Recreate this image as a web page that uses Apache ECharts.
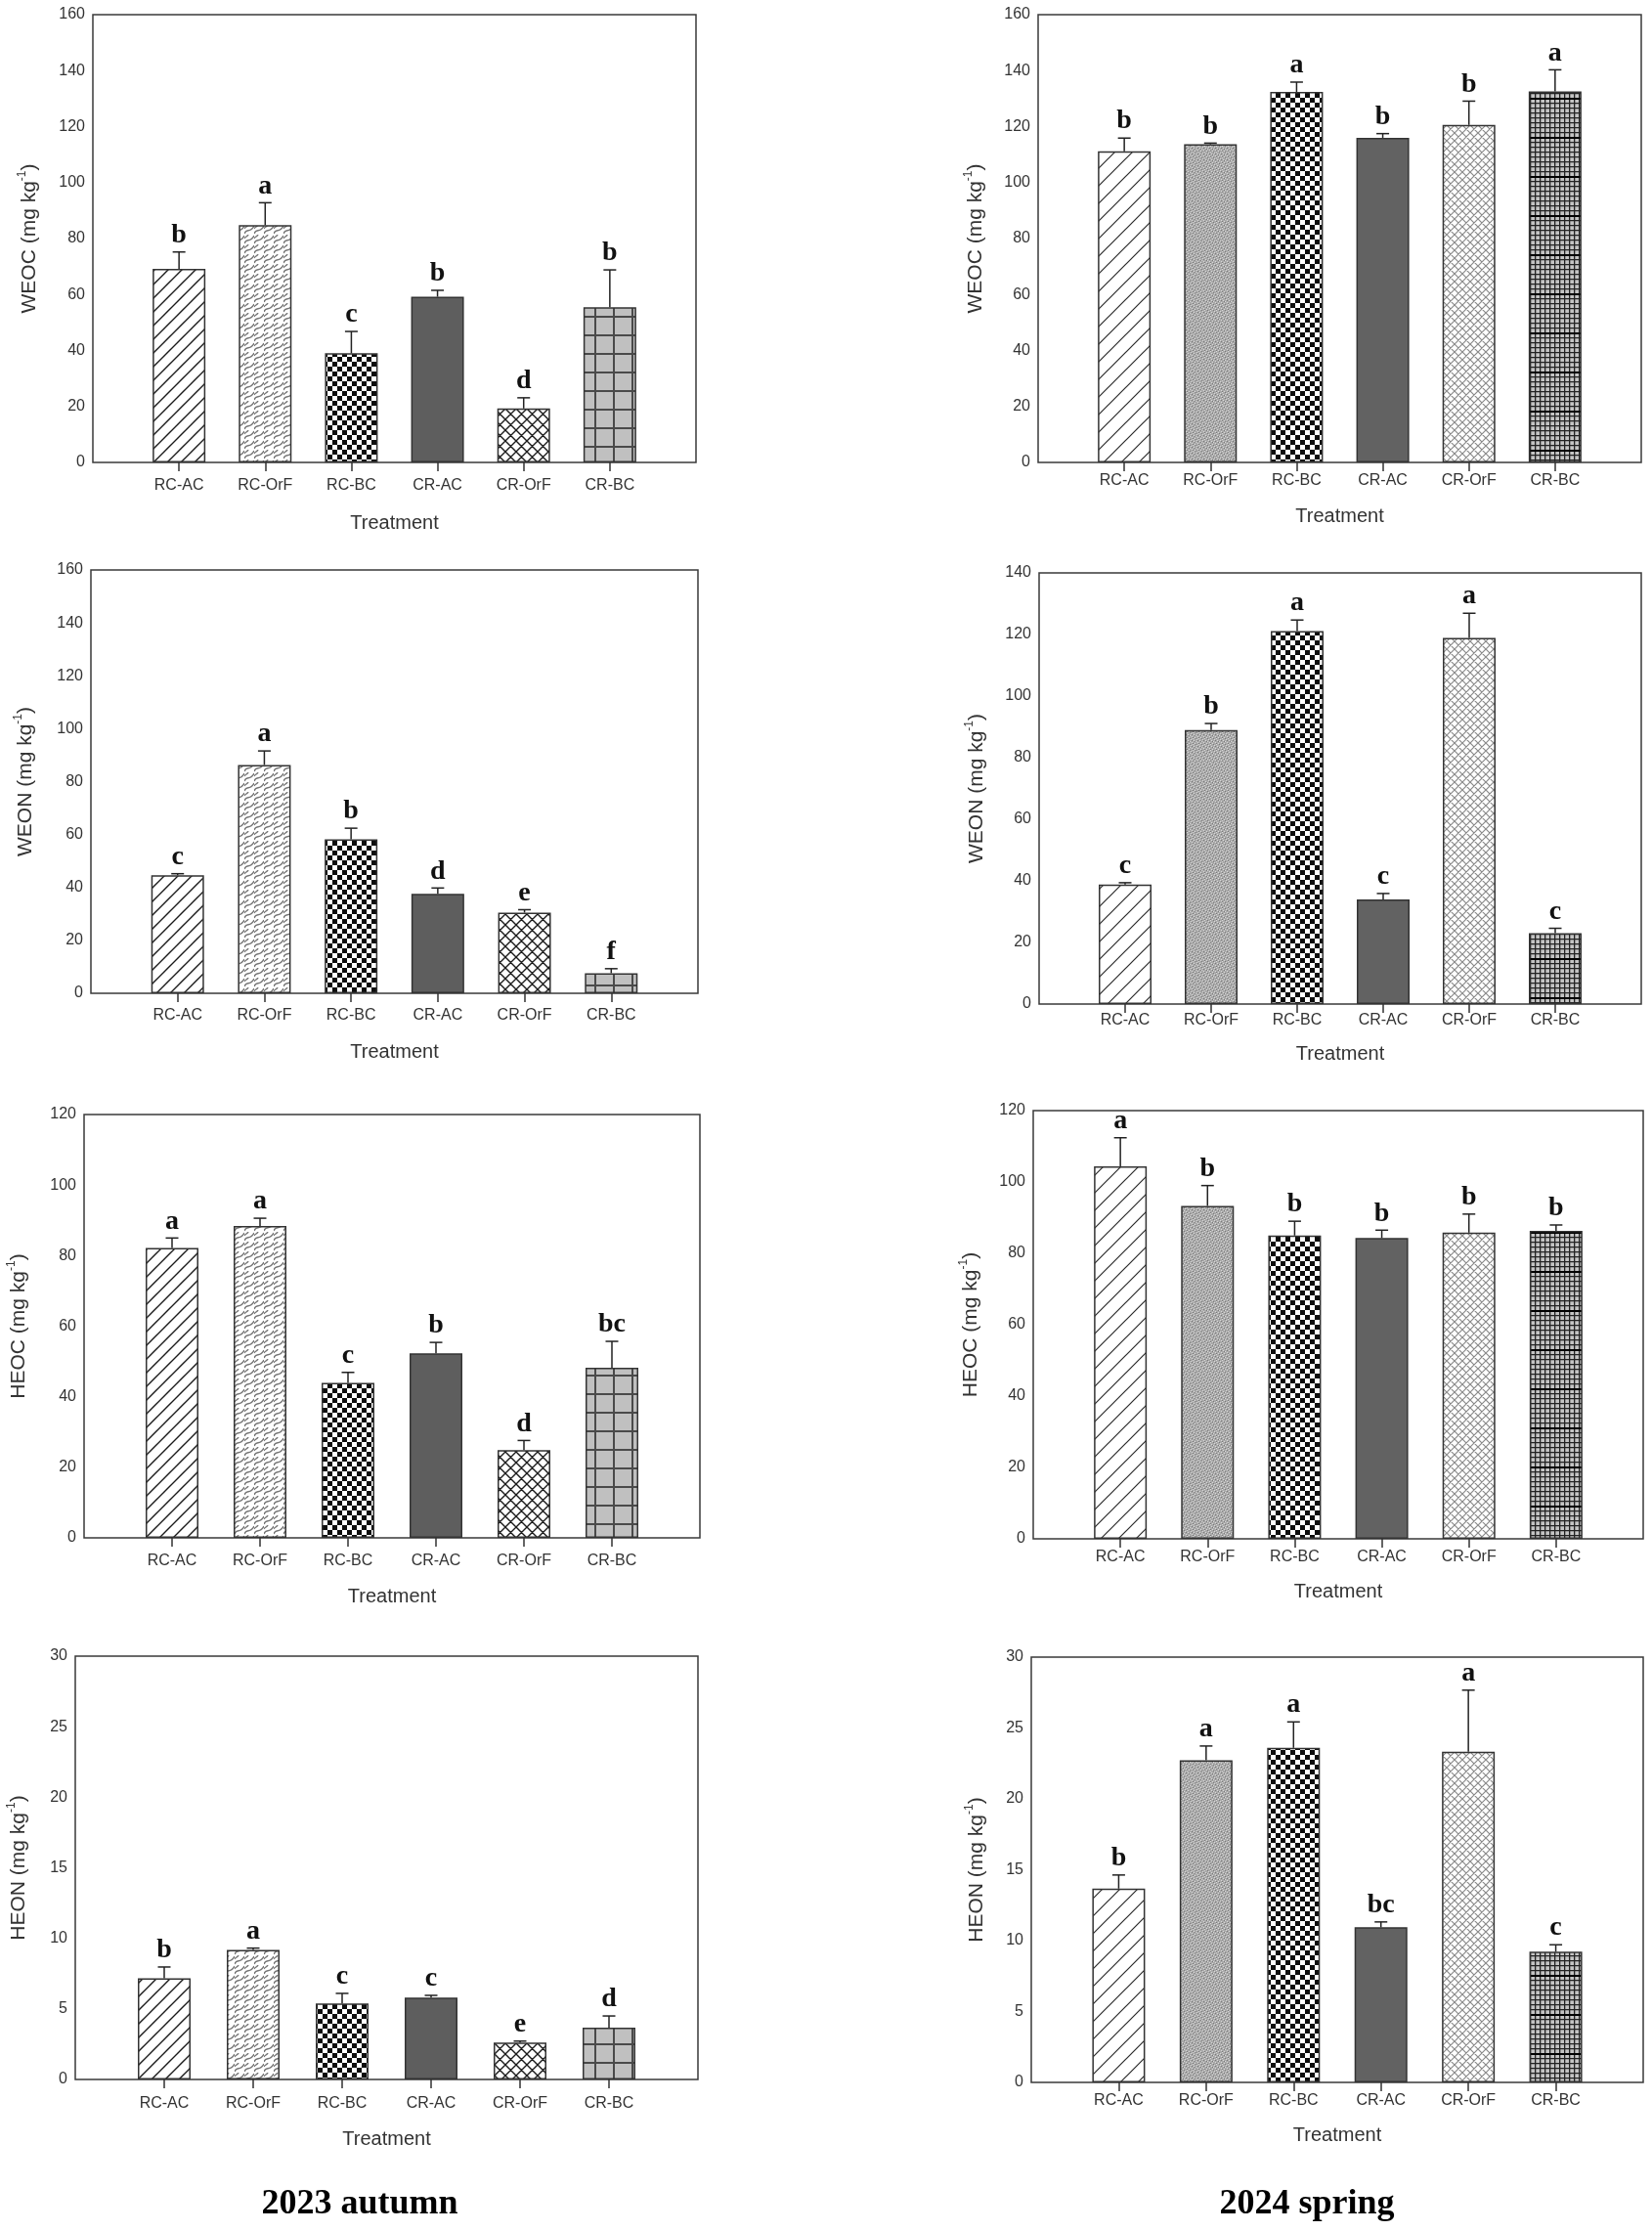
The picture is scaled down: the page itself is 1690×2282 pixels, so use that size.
<!DOCTYPE html>
<html>
<head>
<meta charset="utf-8">
<script src="https://cdn.jsdelivr.net/npm/echarts@6/dist/echarts.min.js"></script>
<style>
  html, body { margin: 0; padding: 0; background: #fff; }
  #main { width: 1690px; height: 2282px; }
</style>
</head>
<body>
<div id="main"></div>
<script>
// treatments on the x axis
const treatments = ['RC-AC', 'RC-OrF', 'RC-BC', 'CR-AC', 'CR-OrF', 'CR-BC'];

// 2023 autumn
const weocAutumn = [69.2, 84.8, 39.0, 59.2, 19.3, 55.5];
const weocAutumnErr = [6.0, 8.0, 7.8, 2.3, 3.8, 13.3];
const weocAutumnLetters = ['b', 'a', 'c', 'b', 'd', 'b'];

const weonAutumn = [44.6, 86.3, 58.2, 37.6, 30.5, 7.6];
const weonAutumnErr = [0.6, 5.3, 4.2, 2.2, 1.1, 1.7];
const weonAutumnLetters = ['c', 'a', 'b', 'd', 'e', 'f'];

const heocAutumn = [82.2, 88.4, 43.9, 52.3, 24.9, 48.2];
const heocAutumnErr = [2.8, 2.2, 3.0, 3.1, 2.7, 7.5];
const heocAutumnLetters = ['a', 'a', 'c', 'b', 'd', 'bc'];

const heonAutumn = [7.17, 9.18, 5.38, 5.8, 2.61, 3.68];
const heonAutumnErr = [0.8, 0.13, 0.72, 0.16, 0.11, 0.82];
const heonAutumnLetters = ['b', 'a', 'c', 'c', 'e', 'd'];

// 2024 spring
const weocSpring = [111.2, 113.7, 132.4, 116.0, 120.6, 132.6];
const weocSpringErr = [4.7, 0.4, 3.5, 1.5, 8.5, 7.7];
const weocSpringLetters = ['b', 'b', 'a', 'b', 'b', 'a'];

const weonSpring = [38.8, 89.0, 121.1, 34.0, 118.9, 23.0];
const weonSpringErr = [0.6, 2.1, 3.6, 1.9, 8.0, 1.6];
const weonSpringLetters = ['c', 'b', 'a', 'c', 'a', 'c'];

const heocSpring = [104.4, 93.3, 85.0, 84.3, 85.8, 86.3];
const heocSpringErr = [8.0, 5.7, 4.0, 2.2, 5.2, 1.65];
const heocSpringLetters = ['a', 'b', 'b', 'b', 'b', 'b'];

const heonSpring = [13.67, 22.72, 23.6, 10.94, 23.33, 9.22];
const heonSpringErr = [0.96, 1.01, 1.83, 0.38, 4.34, 0.49];
const heonSpringLetters = ['b', 'a', 'a', 'bc', 'a', 'c'];

const SANS = '"Liberation Sans", Arial, sans-serif';
const SERIF = '"Liberation Serif", "Times New Roman", serif';

// fill patterns (drawn on small canvases)
function pat(w, h, draw) {
  const c = document.createElement('canvas');
  c.width = w; c.height = h;
  const g = c.getContext('2d');
  draw(g, w, h);
  return { image: c, repeat: 'repeat' };
}
function diag(size, stroke, lw) {
  return pat(size, size, function (g, w) {
    g.fillStyle = '#fff'; g.fillRect(0, 0, w, w);
    g.strokeStyle = stroke; g.lineWidth = lw;
    g.beginPath();
    g.moveTo(-2, w + 2); g.lineTo(w + 2, -2);
    g.moveTo(-2, 2); g.lineTo(2, -2);
    g.moveTo(w - 2, w + 2); g.lineTo(w + 2, w - 2);
    g.stroke();
  });
}
function cross(size, bg, stroke, lw) {
  return pat(size, size, function (g, w) {
    g.fillStyle = bg; g.fillRect(0, 0, w, w);
    g.strokeStyle = stroke; g.lineWidth = lw;
    g.beginPath();
    g.moveTo(-2, w + 2); g.lineTo(w + 2, -2);
    g.moveTo(-2, -2); g.lineTo(w + 2, w + 2);
    g.moveTo(-2, 2); g.lineTo(2, -2);
    g.moveTo(w - 2, w + 2); g.lineTo(w + 2, w - 2);
    g.moveTo(w - 2, -2); g.lineTo(w + 2, 2);
    g.moveTo(-2, w - 2); g.lineTo(2, w + 2);
    g.stroke();
  });
}
function checker(sq, dark, light) {
  return pat(sq * 2, sq * 2, function (g, w) {
    g.fillStyle = light; g.fillRect(0, 0, w, w);
    g.fillStyle = dark;
    g.fillRect(0, 0, sq, sq); g.fillRect(sq, sq, sq, sq);
  });
}
function grid(sx, sy, bg, stroke, lw) {
  return pat(sx, sy, function (g) {
    g.fillStyle = bg; g.fillRect(0, 0, sx, sy);
    g.strokeStyle = stroke; g.lineWidth = lw;
    g.beginPath();
    g.moveTo(lw / 2, 0); g.lineTo(lw / 2, sy);
    g.moveTo(0, lw / 2); g.lineTo(sx, lw / 2);
    g.stroke();
  });
}
const waveGray = pat(10, 10, function (g) {
  g.fillStyle = '#fff'; g.fillRect(0, 0, 10, 10);
  g.strokeStyle = '#767676'; g.lineWidth = 1.5;
  g.beginPath();
  g.moveTo(0, 9); g.bezierCurveTo(2, 3, 6, 9, 10, 1);
  g.moveTo(0, 4); g.bezierCurveTo(1, 2, 3, 2, 4, 0);
  g.stroke();
});
const fineGray = pat(6, 6, function (g) {
  g.fillStyle = '#a9a9a9'; g.fillRect(0, 0, 6, 6);
  g.fillStyle = '#d8d8d8';
  g.fillRect(0, 0, 1, 1); g.fillRect(3, 1, 1, 1); g.fillRect(1, 3, 1, 1);
  g.fillRect(4, 4, 1, 1); g.fillRect(5, 2, 1, 1); g.fillRect(2, 5, 1, 1);
  g.fillStyle = '#7a7a7a';
  g.fillRect(1, 1, 1, 1); g.fillRect(4, 2, 1, 1); g.fillRect(2, 4, 1, 1); g.fillRect(5, 5, 1, 1);
});
// fine dark grid with a heavier horizontal rule every few cells
const fineGrid = pat(5, 40, function (g) {
  g.fillStyle = '#c4c4c4'; g.fillRect(0, 0, 5, 40);
  g.strokeStyle = '#222'; g.lineWidth = 1.3;
  g.beginPath();
  g.moveTo(0.65, 0); g.lineTo(0.65, 40);
  for (let y = 0; y < 40; y += 5) { g.moveTo(0, y + 0.65); g.lineTo(5, y + 0.65); }
  g.stroke();
  g.fillStyle = '#000'; g.fillRect(0, 20, 5, 2);
});

const autumnPats = [
  diag(14, '#1a1a1a', 1.4),
  waveGray,
  checker(5, '#0d0d0d', '#fff'),
  '#5e5e5e',
  cross(11, '#fff', '#1a1a1a', 1.4),
  grid(19, 19, '#c0c0c0', '#4a4a4a', 2)
];
const springPats = [
  diag(18, '#2a2a2a', 1.2),
  fineGray,
  checker(5, '#0d0d0d', '#fff'),
  '#626262',
  cross(8, '#fff', '#8a8a8a', 1.2),
  fineGrid
];

// panel layout: [left, top, width, height] of the framed plot area
const panels = [
  { y: 'WEOC', vals: weocAutumn, errs: weocAutumnErr, letters: weocAutumnLetters, max: 160, step: 20, pats: autumnPats, box: [95, 15, 617, 458], lm: 16, ng: 52, yg: 52 },
  { y: 'WEOC', vals: weocSpring, errs: weocSpringErr, letters: weocSpringLetters, max: 160, step: 20, pats: springPats, box: [1062, 15, 617, 458], lm: 11, ng: 45, yg: 51 },
  { y: 'WEON', vals: weonAutumn, errs: weonAutumnErr, letters: weonAutumnLetters, max: 160, step: 20, pats: autumnPats, box: [93, 583, 621, 433], lm: 15, ng: 50, yg: 54 },
  { y: 'WEON', vals: weonSpring, errs: weonSpringErr, letters: weonSpringLetters, max: 140, step: 20, pats: springPats, box: [1063, 586, 616, 441], lm: 9, ng: 41, yg: 51 },
  { y: 'HEOC', vals: heocAutumn, errs: heocAutumnErr, letters: heocAutumnLetters, max: 120, step: 20, pats: autumnPats, box: [86, 1140, 630, 433], lm: 16, ng: 50, yg: 54 },
  { y: 'HEOC', vals: heocSpring, errs: heocSpringErr, letters: heocSpringLetters, max: 120, step: 20, pats: springPats, box: [1057, 1136, 624, 438], lm: 11, ng: 44, yg: 51 },
  { y: 'HEON', vals: heonAutumn, errs: heonAutumnErr, letters: heonAutumnLetters, max: 30, step: 5, pats: autumnPats, box: [77, 1694, 637, 433], lm: 17, ng: 51, yg: 45 },
  { y: 'HEON', vals: heonSpring, errs: heonSpringErr, letters: heonSpringLetters, max: 30, step: 5, pats: springPats, box: [1055, 1695, 626, 435], lm: 11, ng: 44, yg: 43 }
];

const catIdx = treatments.map(function (t, i) { return i; });

function errRenderer(letters) {
  return function (params, api) {
    const x = api.value(0), v = api.value(1), e = api.value(2);
    const base = api.coord([x, v]);
    const top = api.coord([x, v + e]);
    const cap = 6.5;
    return {
      type: 'group',
      children: [
        { type: 'line', shape: { x1: base[0], y1: base[1], x2: top[0], y2: top[1] }, style: { stroke: '#222', lineWidth: 1.5 } },
        { type: 'line', shape: { x1: top[0] - cap, y1: top[1], x2: top[0] + cap, y2: top[1] }, style: { stroke: '#222', lineWidth: 1.5 } },
        {
          type: 'text', x: top[0], y: top[1] - 3,
          style: {
            text: letters[params.dataIndex], fill: '#111', fontSize: 28, fontWeight: 'bold',
            fontFamily: SERIF, align: 'center', verticalAlign: 'bottom'
          }
        }
      ]
    };
  };
}

const grids = [], xAxes = [], yAxes = [], series = [];
panels.forEach(function (p, i) {
  grids.push({
    left: p.box[0], top: p.box[1], width: p.box[2], height: p.box[3],
    show: true, borderColor: '#3a3a3a', borderWidth: 1.5, containLabel: false
  });
  xAxes.push({
    gridIndex: i, type: 'value', min: -1, max: 6, interval: 1,
    name: 'Treatment', nameLocation: 'middle', nameGap: p.ng,
    nameTextStyle: { fontFamily: SANS, fontSize: 20, color: '#333' },
    axisLine: { show: false },
    axisTick: { show: true, customValues: catIdx, length: 9, lineStyle: { color: '#333', width: 1.5 } },
    axisLabel: {
      customValues: catIdx, margin: p.lm, fontFamily: SANS, fontSize: 16, color: '#333',
      formatter: function (v) { return treatments[v] || ''; }
    },
    splitLine: { show: false }
  });
  yAxes.push({
    gridIndex: i, type: 'value', min: 0, max: p.max, interval: p.step,
    name: '{t|' + p.y + ' (mg kg}{s|-1}{t|)}', nameLocation: 'middle', nameRotate: 90, nameGap: p.yg,
    nameTextStyle: {
      rich: {
        t: { fontFamily: SANS, fontSize: 21, color: '#333', lineHeight: 26 },
        s: { fontFamily: SANS, fontSize: 12, color: '#333', verticalAlign: 'top', lineHeight: 26 }
      }
    },
    axisLine: { show: false },
    axisTick: { show: false },
    axisLabel: { margin: 8, fontFamily: SANS, fontSize: 16, color: '#333' },
    splitLine: { show: false }
  });
  series.push({
    type: 'bar', xAxisIndex: i, yAxisIndex: i, barWidth: 54,
    itemStyle: { borderColor: '#333', borderWidth: 1.5 },
    data: p.vals.map(function (v, j) {
      return { value: [j, v], itemStyle: { color: p.pats[j] } };
    }),
    z: 2
  });
  series.push({
    type: 'custom', xAxisIndex: i, yAxisIndex: i,
    renderItem: errRenderer(p.letters),
    encode: { x: 0, y: 1 },
    data: p.vals.map(function (v, j) { return [j, v, p.errs[j]]; }),
    z: 3
  });
});

const chart = echarts.init(document.getElementById('main'));
chart.setOption({
  animation: false,
  backgroundColor: '#fff',
  title: [
    { text: '2023 autumn', left: 363, top: 2232, textAlign: 'center',
      textStyle: { fontFamily: SERIF, fontSize: 36, fontWeight: 'bold', color: '#000' } },
    { text: '2024 spring', left: 1332, top: 2232, textAlign: 'center',
      textStyle: { fontFamily: SERIF, fontSize: 36, fontWeight: 'bold', color: '#000' } }
  ],
  grid: grids,
  xAxis: xAxes,
  yAxis: yAxes,
  series: series
});
</script>
</body>
</html>
